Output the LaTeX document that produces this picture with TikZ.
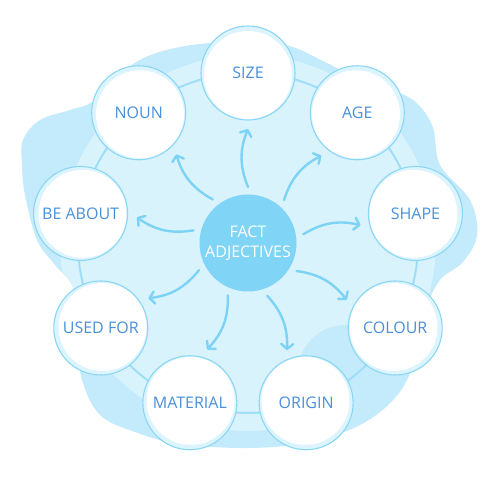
\documentclass[tikz,border=0pt]{standalone}
\usepackage{fontspec}
\setmainfont{Open Sans}
\usetikzlibrary{arrows.meta,calc}
\definecolor{blobdark}{RGB}{196,235,251}
\definecolor{bloblight}{RGB}{217,243,253}
\definecolor{ringc}{RGB}{140,214,245}
\definecolor{crescent}{RGB}{220,244,253}
\definecolor{linkc}{RGB}{160,222,247}
\definecolor{arrc}{RGB}{125,211,245}
\definecolor{hubc}{RGB}{128,212,246}
\definecolor{txtc}{RGB}{74,144,217}
\begin{document}
\begin{tikzpicture}[x=1pt,y=1pt,
 item/.style={circle, minimum size=94pt, inner sep=0pt, draw=ringc, line width=1.1pt, fill=crescent,
   text=txtc, font=\fontsize{16}{18}\selectfont,
   path picture={\fill[white] ($(path picture bounding box.center)!2pt!(C)$) circle (44pt);}},
 hub/.style={circle, minimum size=97pt, inner sep=0pt, fill=hubc, text=white, align=center,
   font=\fontsize{16}{20}\selectfont},
 arr/.style={draw=arrc, line width=2.4pt, line cap=round,
   -{Straight Barb[length=5pt,width=12pt,round]}},
 blob/.style={smooth cycle, tension=0.6}]
\useasboundingbox (0,0) rectangle (500,500);
\fill[white] (0,0) rectangle (500,500);
\coordinate (C) at (248,257);
\def\blobpath{plot[blob] coordinates {
 (23,360) (40,380) (70,390) (95,400) (133,436) (175,452) (230,458) (285,455)
 (325,438) (370,415) (410,402) (432,375) (440,335) (470,300) (477,265) (463,238)
 (440,220) (426,190) (413,135) (395,102) (360,75) (310,58) (250,52) (180,56)
 (135,68) (100,85) (82,120) (77,160) (74,210) (55,235) (37,260) (25,305) (22,335)}}
% background blob
\fill[blobdark] \blobpath;
\begin{scope}
 \clip \blobpath;
 \fill[bloblight] (C) circle (188pt);
 \fill[blobdark] (345,125) ellipse (48pt and 50pt);
\end{scope}
% link ring
\draw[linkc, line width=2pt] (C) circle (170pt);
% hub
\node[hub] (hub) at (C) {FACT\\ADJECTIVES};
% items
\node[item] (size)     at ([shift={(90:170pt)}]C)  {SIZE};
\node[item] (age)      at ([shift={(50:170pt)}]C)  {AGE};
\node[item] (shape)    at ([shift={(10:170pt)}]C)  {SHAPE};
\node[item] (colour)   at ([shift={(-30:170pt)}]C) {COLOUR};
\node[item] (origin)   at ([shift={(-70:170pt)}]C) {ORIGIN};
\node[item] (material) at ([shift={(250:170pt)}]C) {MATERIAL};
\node[item] (usedfor)  at ([shift={(210:170pt)}]C) {USED FOR};
\node[item] (beabout)  at ([shift={(170:170pt)}]C) {BE ABOUT};
\node[item] (noun)     at ([shift={(130:170pt)}]C) {NOUN};
% arrows
\foreach \n/\a in {1/90,2/50,3/9,4/-30,5/-70,6/249,7/209,8/167,9/129}{
  \coordinate (s\n) at ([shift={(\a:56pt)}]C);
  \coordinate (e\n) at ([shift={(\a:114pt)}]C);
  \draw[arr] (s\n) to[bend left=22] (e\n);
}
\end{tikzpicture}
\end{document}
